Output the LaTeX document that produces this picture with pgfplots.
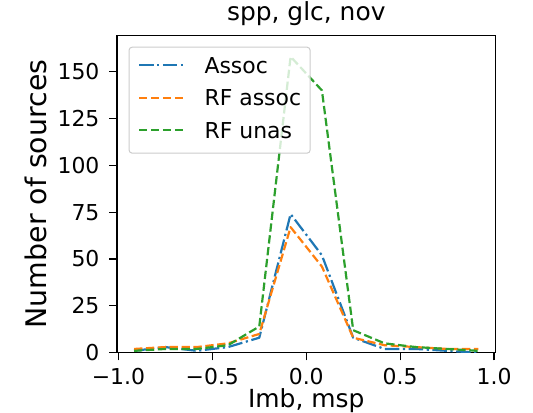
\documentclass[border=0pt]{standalone}
\usepackage{fontspec}
\setmainfont{DejaVu Sans}
\usepackage{pgfplots}
\pgfplotsset{compat=1.18}
\definecolor{tabblue}{HTML}{1F77B4}
\definecolor{taborange}{HTML}{FF7F0E}
\definecolor{tabgreen}{HTML}{2CA02C}
\newcommand\tf{\fontsize{22}{26}\selectfont}
\newcommand\lf{\fontsize{25}{30}\selectfont}
\newcommand\yf{\fontsize{28.5}{34}\selectfont}
\begin{document}
\begin{tikzpicture}
\useasboundingbox (-117bp,-60.3bp) rectangle (416bp,352.7bp);
\begin{axis}[
  at={(0,0)}, anchor=south west,
  scale only axis, width=378.5bp, height=317.4bp,
  xmin=-1.0075, xmax=1.0075, ymin=0, ymax=169.4,
  axis line style={line width=1.2bp},
  tick pos=left, tick align=outside,
  major tick length=7.7bp,
  every tick/.style={black, line width=1.2bp},
  xtick={-1,-0.5,0,0.5,1},
  xticklabels={\tf −1.0,\tf −0.5,\tf 0.0,\tf 0.5,\tf 1.0},
  ytick={0,25,50,75,100,125,150},
  yticklabels={\tf 0,\tf 25,\tf 50,\tf 75,\tf 100,\tf 125,\tf 150},
  ticklabel style={font=\tf, inner sep=0pt},
  xticklabel style={anchor=north, yshift=-7.3bp},
  yticklabel style={anchor=east, xshift=-9.7bp},
  title={\lf spp, glc, nov},
  title style={at={(axis description cs:0.5,1.0271)}, anchor=base, inner sep=0pt, font=\lf},
  xlabel={\lf Imb, msp},
  xlabel style={at={(axis description cs:0.5,-0.172)}, anchor=base, inner sep=0pt, font=\lf},
  every axis y label/.style={at={(axis description cs:-0.185,0.5)}, rotate=90, anchor=base, inner sep=0pt, font=\yf},
  ylabel={\yf Number of sources},
  legend style={
    at={(axis description cs:0.0306,0.964)}, anchor=north west,
    draw=black!20, line width=1bp, rounded corners=3bp,
    fill=white, fill opacity=0.8, text opacity=1,
    font=\tf,
    inner xsep=9bp, inner ysep=9.6bp,
    row sep=11.4bp,
    nodes={inner sep=0pt, text depth=5bp, text height=16.3bp, anchor=base west},
    /tikz/every odd column/.append style={column sep=18.3bp},
  },
  legend cell align=left,
  legend image code/.code={\draw[#1] (0bp,8.2bp) -- (46bp,8.2bp);},
]
\addplot[tabblue, line width=2.2bp, line join=round, dash pattern=on 14.4bp off 3.6bp on 2.2bp off 3.6bp] coordinates {
(-0.9167,1) (-0.75,3) (-0.5833,1) (-0.4167,3) (-0.25,8) (-0.0833,74) (0.0833,52) (0.25,8) (0.4167,2) (0.5833,2) (0.75,1) (0.9167,0)
};
\addlegendentry{\tf Assoc}
\addplot[taborange, line width=2.2bp, line join=round, dash pattern=on 8.3bp off 3.6bp] coordinates {
(-0.9167,2) (-0.75,3) (-0.5833,3) (-0.4167,5) (-0.25,10) (-0.0833,67) (0.0833,46) (0.25,8) (0.4167,4) (0.5833,3) (0.75,2) (0.9167,2)
};
\addlegendentry{\tf RF assoc}
\addplot[tabgreen, line width=2.2bp, line join=round, dash pattern=on 8.3bp off 3.6bp] coordinates {
(-0.9167,1) (-0.75,2) (-0.5833,2) (-0.4167,4) (-0.25,14) (-0.0833,158) (0.0833,140) (0.25,12) (0.4167,5) (0.5833,3) (0.75,2) (0.9167,1)
};
\addlegendentry{\tf RF unas}
\end{axis}
\end{tikzpicture}
\end{document}
